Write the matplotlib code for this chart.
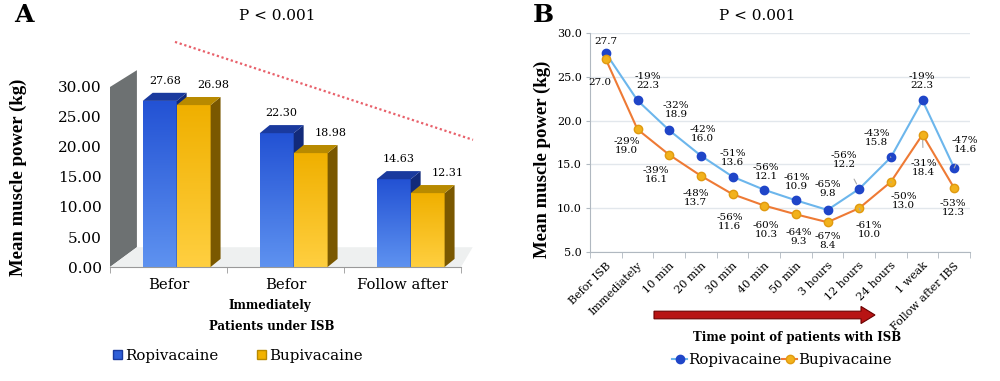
import numpy as np
import matplotlib.pyplot as plt
import matplotlib.transforms as mtransforms
from matplotlib.patches import Polygon, Rectangle, FancyArrow, Patch
from matplotlib.lines import Line2D
from matplotlib.colors import LinearSegmentedColormap

plt.rcParams['font.family'] = ['DejaVu Serif']

# Panel A data
grupos_a = ['Befor', 'Befor', 'Follow after']
ropi_a = [27.68, 22.30, 14.63]
bupi_a = [26.98, 18.98, 12.31]

# Panel B data
tempos_b = ['Befor ISB', 'Immediately', '10 min', '20 min', '30 min', '40 min',
            '50 min', '3 hours', '12 hours', '24 hours', '1 weak', 'Follow after IBS']
ropi_b = [27.7, 22.3, 18.9, 16.0, 13.6, 12.1, 10.9, 9.8, 12.2, 15.8, 22.3, 14.6]
ropi_pct = ['', '-19%', '-32%', '-42%', '-51%', '-56%', '-61%', '-65%', '-56%', '-43%', '-19%', '-47%']
bupi_b = [27.0, 19.0, 16.1, 13.7, 11.6, 10.3, 9.3, 8.4, 10.0, 13.0, 18.4, 12.3]
bupi_pct = ['', '-29%', '-39%', '-48%', '-56%', '-60%', '-64%', '-67%', '-61%', '-50%', '-31%', '-53%']

fig = plt.figure(figsize=(10, 3.81), dpi=100)

# ---------------- Panel A ----------------
ax = fig.add_axes([0.110, 0.2992, 0.351, 0.4725])

def barra_3d(ax, x0, w, h, top_col, bot_col, lado_col, topo_col, dx=0.085, dy=1.35):
    cmap = LinearSegmentedColormap.from_list('g', [bot_col, top_col])
    grad = np.linspace(0, 1, 100).reshape(-1, 1)
    rect = Rectangle((x0, 0), w, h, facecolor='none', edgecolor='none')
    ax.add_patch(rect)
    im = ax.imshow(grad, cmap=cmap, extent=(x0, x0 + w, 0, h), aspect='auto',
                   origin='lower', zorder=2)
    im.set_clip_path(rect)
    ax.add_patch(Polygon([(x0 + w, 0), (x0 + w + dx, dy), (x0 + w + dx, h + dy), (x0 + w, h)],
                         closed=True, facecolor=lado_col, edgecolor='none', zorder=2))
    ax.add_patch(Polygon([(x0, h), (x0 + dx, h + dy), (x0 + w + dx, h + dy), (x0 + w, h)],
                         closed=True, facecolor=topo_col, edgecolor='none', zorder=2))

# parede cinza e chao
ax.add_patch(Polygon([(-0.5, 0), (-0.27, 3.3), (-0.27, 32.8), (-0.5, 30)], closed=True,
                     facecolor='#6d7172', edgecolor='none', clip_on=False, zorder=1))
ax.add_patch(Polygon([(-0.5, 0), (-0.27, 3.3), (2.6, 3.3), (2.5, 0)], closed=True,
                     facecolor='#eef0f0', edgecolor='none', clip_on=False, zorder=1))

w = 0.29
dx = 0.085
dy = 1.35
for i in range(len(grupos_a)):
    xb = i - 0.22
    xo = i + 0.07
    barra_3d(ax, xb, w, ropi_a[i], '#2352d4', '#5e92f0', '#122a7a', '#1a3a9e')
    barra_3d(ax, xo, w, bupi_a[i], '#f0b000', '#ffcf40', '#7a5800', '#b88a00')
    ax.text(xb + w / 2 + dx / 2, ropi_a[i] + dy + 1.2, f'{ropi_a[i]:.2f}', ha='center',
            va='bottom', fontsize=8)
    ax.text(xo + w + dx / 2 - 0.02, bupi_a[i] + dy + 1.2, f'{bupi_a[i]:.2f}', ha='center',
            va='bottom', fontsize=8)

ax.set_xlim(-0.5, 2.5)
ax.set_ylim(0, 30)
ax.set_yticks(np.arange(0, 31, 5))
ax.set_yticklabels([f'{v:.2f}' for v in np.arange(0, 31, 5)], fontsize=11)
ax.set_xticks(range(3))
ax.set_xticklabels(grupos_a, fontsize=10.7)
ax.set_xticks([-0.5, 0.5, 1.5, 2.5], minor=True)
ax.tick_params(axis='x', which='major', length=0, pad=8)
ax.tick_params(axis='x', which='minor', length=4, color='#999999')
ax.tick_params(axis='y', length=0, pad=6)
for s in ['top', 'right', 'left']:
    ax.spines[s].set_visible(False)
ax.spines['bottom'].set_color('#999999')
ax.set_ylabel('Mean muscle power (kg)', fontsize=13.5, fontweight='bold', family='Liberation Serif')
ax.yaxis.set_label_coords(-0.236, 0.5)

fig.text(0.014, 0.96, 'A', fontsize=18, fontweight='bold', va='center')
fig.text(0.277, 0.958, 'P < 0.001', fontsize=11, ha='center', va='center')
fig.add_artist(Line2D([0.175, 0.473], [0.890, 0.633], transform=fig.transFigure,
                      color='#e8606a', lw=1.6, linestyle=(0, (1, 1.2))))
fig.text(0.270, 1 - 305 / 381, 'Immediately', fontsize=8.5, fontweight='bold', ha='center', va='center')
fig.text(0.272, 1 - 327 / 381, 'Patients under ISB', fontsize=8.5, fontweight='bold', ha='center', va='center')
fig.legend(handles=[Patch(facecolor='#2f5fd8', edgecolor='#1a3a9e', label='Ropivacaine'),
                    Patch(facecolor='#f2b300', edgecolor='#b88a00', label='Bupivacaine')],
           loc='center', bbox_to_anchor=(0.238, 1 - 356 / 381), ncol=2, frameon=False,
           fontsize=10.8, handlelength=0.6, handleheight=0.6, handletextpad=0.2, columnspacing=2.6)

# ---------------- Panel B ----------------
bx = fig.add_axes([0.590, 0.3386, 0.380, 0.5748])
x = np.arange(len(tempos_b))
bx.plot(x, ropi_b, color='#6cb6ec', lw=1.5, marker='o', ms=6, mfc='#1f45c8', mec='#1f45c8', zorder=3)
bx.plot(x, bupi_b, color='#ee7a35', lw=1.5, marker='o', ms=6, mfc='#f2b21c', mec='#e09a10', zorder=3)

off_ropi = [(0, 12), (10, 19), (7, 20), (2, 22), (0, 19), (2, 18), (1, 18), (0, 21),
            (-15, 29), (-14, 19), (-1, 19), (11, 23)]
off_bupi = [(-6, -23), (-11, -17), (-13, -20), (-5, -22), (-3, -28), (2, -24), (3, -23),
            (0, -19), (10, -22), (13, -19), (1, -33), (-1, -20)]
leader_ropi = [8, 9, 11]
leader_bupi = [8, 9, 10]

for i in range(len(tempos_b)):
    for vals, pcts, offs, lead in [(ropi_b, ropi_pct, off_ropi, leader_ropi),
                                   (bupi_b, bupi_pct, off_bupi, leader_bupi)]:
        txt = f'{vals[i]:.1f}' if pcts[i] == '' else f'{pcts[i]}\n{vals[i]:.1f}'
        ap = dict(arrowstyle='-', color='#aaaaaa', lw=0.8, shrinkA=6, shrinkB=4) if i in lead else None
        bx.annotate(txt, (x[i], vals[i]), xytext=offs[i], textcoords='offset pixels',
                    ha='center', va='center', fontsize=7.5, linespacing=1.0,
                    arrowprops=ap, zorder=4)

bx.set_xlim(-0.5, len(tempos_b) - 0.5)
bx.set_ylim(5, 30)
bx.set_yticks(np.arange(5, 31, 5))
bx.set_yticklabels([f'{v:.1f}' for v in np.arange(5, 31, 5)], fontsize=8)
bx.set_xticks(x)
bx.set_xticklabels(tempos_b, rotation=45, ha='right', rotation_mode='anchor', fontsize=8)
desloca = mtransforms.ScaledTranslation(12 / 100, 0, fig.dpi_scale_trans)
for lbl in bx.get_xticklabels():
    lbl.set_transform(lbl.get_transform() + desloca)
bx.set_xticks(np.arange(-0.5, len(tempos_b), 1), minor=True)
bx.tick_params(axis='x', which='major', length=0, pad=6)
bx.tick_params(axis='x', which='minor', length=4, color='#b0b8c0')
bx.tick_params(axis='y', length=3, color='#b0b8c0', pad=3)
bx.yaxis.grid(True, color='#e2e7ec', lw=1)
bx.set_axisbelow(True)
for s in ['top', 'right']:
    bx.spines[s].set_visible(False)
bx.spines['left'].set_color('#b0b8c0')
bx.spines['bottom'].set_color('#b0b8c0')
bx.set_ylabel('Mean muscle power (kg)', fontsize=13.5, fontweight='bold', family='Liberation Serif')
bx.yaxis.set_label_coords(-0.103, 0.425)

fig.text(0.543, 0.96, 'B', fontsize=18, fontweight='bold', va='center', ha='center')
fig.text(0.757, 0.958, 'P < 0.001', fontsize=11, ha='center', va='center')
fig.add_artist(FancyArrow(0.654, 1 - 315 / 381, 0.207, 0, width=0.02, head_width=0.045,
                          head_length=0.014, length_includes_head=False, transform=fig.transFigure,
                          facecolor='#b81414', edgecolor='#6a0000', lw=0.8))
fig.text(0.797, 1 - 337 / 381, 'Time point of patients with ISB', fontsize=8.5, fontweight='bold',
         ha='center', va='center')
fig.legend(handles=[Line2D([], [], color='#6cb6ec', marker='o', mfc='#1f45c8', mec='#1f45c8', ms=6, label='Ropivacaine'),
                    Line2D([], [], color='#ee7a35', marker='o', mfc='#f2b21c', mec='#e09a10', ms=6, label='Bupivacaine')],
           loc='center', bbox_to_anchor=(0.782, 1 - 360 / 381), ncol=2, frameon=False,
           fontsize=10.8, handlelength=1.0, handletextpad=0.05, columnspacing=0.05)

fig.savefig('out.png', dpi=100)
